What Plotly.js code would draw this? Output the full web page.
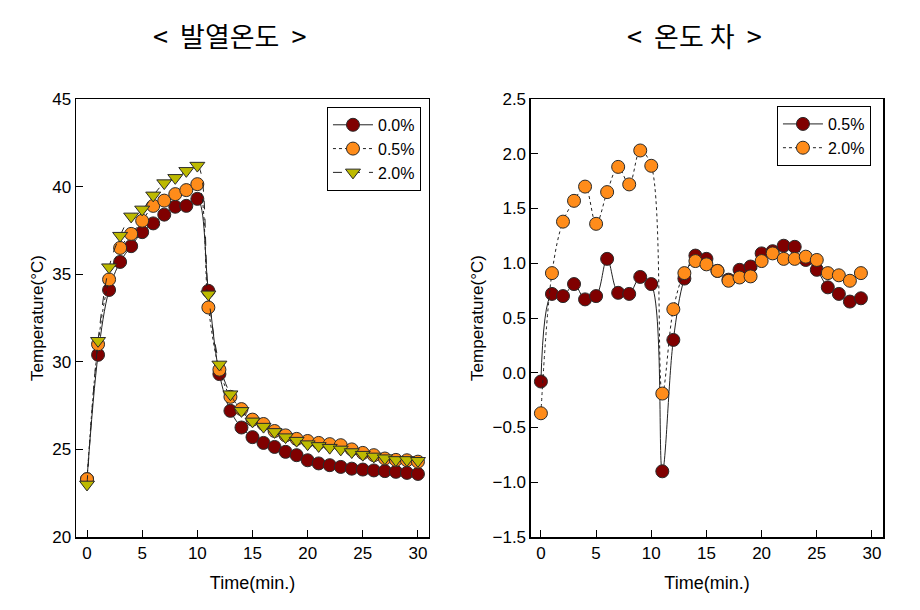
<!DOCTYPE html>
<html>
<head>
<meta charset="utf-8">
<script src="https://cdn.plot.ly/plotly-3.0.1.min.js"></script>
<style>html,body{margin:0;padding:0;background:#fff;}#chart{width:920px;height:610px;}</style>
</head>
<body>
<div id="chart"></div>
<script>
// ----- Left panel: heat-generation temperature -----
const timeLeft = [0,1,2,3,4,5,6,7,8,9,10,11,12,13,14,15,16,17,18,19,20,21,22,23,24,25,26,27,28,29,30];
const temp00 = [23.3,30.4,34.1,35.7,36.6,37.4,37.9,38.4,38.85,38.9,39.3,34.05,29.3,27.2,26.25,25.7,25.37,25.14,24.86,24.67,24.38,24.2,24.1,24.0,23.9,23.85,23.8,23.76,23.72,23.66,23.6];
const temp05 = [23.3,31.0,34.7,36.5,37.3,38.05,38.9,39.2,39.57,39.8,40.14,33.1,29.55,28.0,27.3,26.7,26.45,26.05,25.8,25.6,25.48,25.37,25.3,25.24,25.0,24.8,24.67,24.48,24.4,24.38,24.3];
const temp20 = [23.0,31.2,35.4,37.2,38.3,38.7,39.5,40.2,40.5,40.9,41.2,33.85,29.85,28.15,27.2,26.6,26.3,26.0,25.7,25.5,25.3,25.2,25.1,25.0,24.85,24.7,24.6,24.5,24.4,24.4,24.35];
const leftNames = ["0.0%","0.5%","2.0%"];
const leftYTicks = [20,25,30,35,40,45];

// ----- Right panel: temperature difference -----
const timeRight = [0,1,2,3,4,5,6,7,8,9,10,11,12,13,14,15,16,17,18,19,20,21,22,23,24,25,26,27,28,29];
const diff05 = [-0.08,0.72,0.70,0.81,0.67,0.70,1.04,0.73,0.72,0.875,0.81,-0.90,0.30,0.86,1.07,1.04,0.93,0.85,0.94,0.97,1.09,1.11,1.16,1.15,1.03,0.94,0.78,0.72,0.65,0.68];
const diff20 = [-0.37,0.91,1.38,1.57,1.70,1.36,1.65,1.88,1.72,2.03,1.89,-0.19,0.58,0.91,1.02,0.99,0.93,0.84,0.87,0.88,1.02,1.09,1.04,1.04,1.06,1.03,0.91,0.89,0.84,0.91];
const rightNames = ["0.5%","2.0%"];
const rightYTicks = [-1.5,-1.0,-0.5,0.0,0.5,1.0,1.5,2.0,2.5];

const xTicks = [0,5,10,15,20,25,30];
const titles = ["<\u00A0 발열온도 \u00A0>", "<\u00A0 온도 차 \u00A0>"];

const cDark = "#800000", cOrange = "#FF8C1A", cYellow = "#BDBA00";
const mline = {color:"#2a2a2a", width:1};

function tr(x, y, name, color, symbol, dash, xa, ya, leg){
  return {x:x, y:y, name:name, type:"scatter", mode:"lines+markers",
    xaxis:xa, yaxis:ya, legend:leg,
    line:{color:"#222", width:1, dash:dash, shape:"spline", smoothing:1},
    marker:{color:color, size:13, symbol:symbol, line:mline}};
}

const data = [
  tr(timeLeft, temp00, leftNames[0], cDark, "circle", "solid", "x", "y", "legend"),
  tr(timeLeft, temp05, leftNames[1], cOrange, "circle", "dot", "x", "y", "legend"),
  tr(timeLeft, temp20, leftNames[2], cYellow, "triangle-down", "dash", "x", "y", "legend"),
  tr(timeRight, diff05, rightNames[0], cDark, "circle", "solid", "x2", "y2", "legend2"),
  tr(timeRight, diff20, rightNames[1], cOrange, "circle", "dot", "x2", "y2", "legend2")
];

const fam = "'Liberation Sans', Arial, sans-serif";
const fontBase = {family:fam, size:17, color:"#000"};
function xax(domain, anchor, range){
  return {domain:domain, anchor:anchor, range:range, tickvals:xTicks, ticks:"inside", ticklen:7,
    tickcolor:"#000", showline:true, linecolor:"#000", linewidth:1.5, mirror:true,
    showgrid:false, zeroline:false, tickfont:fontBase,
    title:{text:"Time(min.)", font:{family:fam, size:18, color:"#000"}, standoff:14}};
}
function yax(anchor, range, ticks, fmt){
  return {anchor:anchor, domain:[0,1], range:range, tickvals:ticks, tickformat:fmt, ticks:"inside", ticklen:7,
    tickcolor:"#000", showline:true, linecolor:"#000", linewidth:1.5, mirror:true,
    showgrid:false, zeroline:false, tickfont:fontBase,
    title:{text:"Temperature(°C)", font:{family:fam, size:17, color:"#000"}, standoff:4}};
}

const legFont = {family:fam, size:16, color:"#000"};
const layout = {
  width:920, height:610, paper_bgcolor:"#fff", plot_bgcolor:"#fff",
  margin:{l:76, r:37, t:99, b:73},
  showlegend:true,
  xaxis: xax([0, 0.4374], "y", [-1, 31]),
  yaxis: yax("x", [20, 45], leftYTicks, "d"),
  xaxis2: xax([0.5638, 1], "y2", [-0.9, 31]),
  yaxis2: yax("x2", [-1.5, 2.5], rightYTicks, ".1f"),
  legend:{x:0.311, y:0.982, xanchor:"left", yanchor:"top", bgcolor:"#fff", itemwidth:40,
    bordercolor:"#000", borderwidth:1, font:legFont},
  legend2:{x:0.8686, y:0.984, xanchor:"left", yanchor:"top", bgcolor:"#fff", itemwidth:40,
    bordercolor:"#000", borderwidth:1, font:legFont},
  annotations:[
    {text:titles[0], xref:"paper", yref:"paper", x:0.1908, y:1, yshift:64, xanchor:"center", yanchor:"middle",
     showarrow:false, font:{family:"'Noto Sans CJK KR', sans-serif", size:27, color:"#000"}},
    {text:titles[1], xref:"paper", yref:"paper", x:0.7668, y:1, yshift:64, xanchor:"center", yanchor:"middle",
     showarrow:false, font:{family:"'Noto Sans CJK KR', sans-serif", size:27, color:"#000"}}
  ]
};

Plotly.newPlot("chart", data, layout, {displayModeBar:false, staticPlot:true});
</script>
</body>
</html>
